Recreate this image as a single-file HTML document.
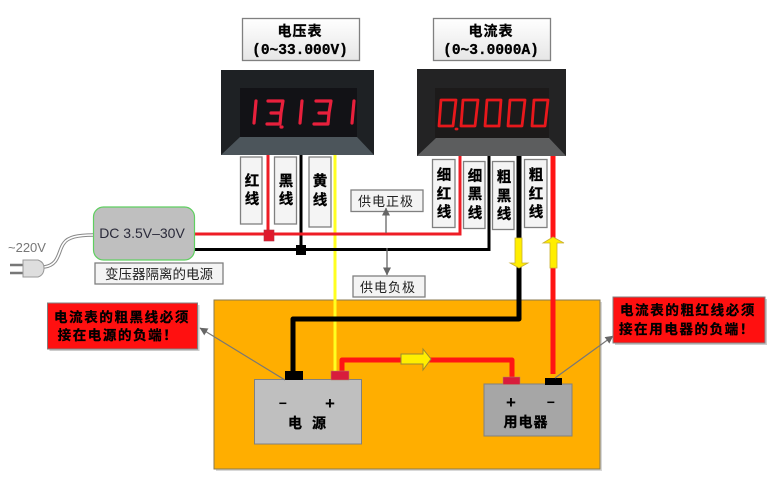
<!DOCTYPE html>
<html><head><meta charset="utf-8">
<style>
html,body{margin:0;padding:0;background:#fff}
svg{display:block}
text{font-family:"Liberation Sans","Noto Sans CJK SC",sans-serif}
.b{font-weight:700;font-family:"Liberation Mono","Noto Sans CJK SC",monospace}
.h{stroke:#000;stroke-width:.3}
.lab{fill:#f4f4f4;stroke:#808080;stroke-width:1.3}
.seg{fill:none;stroke:#e8203c;stroke-width:3.2;stroke-linecap:round;stroke-linejoin:round}
.seg2{fill:none;stroke:#e8181c;stroke-width:2.800;stroke-linecap:round;stroke-linejoin:round}
</style></head><body>
<svg width="780" height="498" viewBox="0 0 780 498" xmlns="http://www.w3.org/2000/svg">
<defs>
<marker id="ah" markerWidth="9" markerHeight="9" refX="7.500" refY="4" orient="auto" markerUnits="userSpaceOnUse"><path d="M0 0L8 4L0 8z" fill="#666"/></marker>
<linearGradient id="mb" x1="0" y1="0" x2="0" y2="1"><stop offset="0" stop-color="#fff"/><stop offset="1" stop-color="#e6e6e6"/></linearGradient>
</defs>
<rect width="780" height="498" fill="#fff"/>

<!-- orange panel -->
<rect x="216" y="302" width="386" height="169" fill="#d8d8d8"/>
<rect x="214" y="300" width="386" height="169" fill="#ffae00" stroke="#8a7a50" stroke-width="1"/>

<!-- wires from meters -->
<path d="M268 153V234" stroke="#ee1c25" stroke-width="3" fill="none"/>
<path d="M301 153V250" stroke="#000" stroke-width="3" fill="none"/>
<path d="M335 153V375" stroke="#ffff20" stroke-width="3" fill="none"/>
<path d="M195 234H460V153" stroke="#ee1c25" stroke-width="3" fill="none"/>
<path d="M195 249.500H489V153" stroke="#000" stroke-width="3" fill="none"/>
<path d="M519 153V319H293V373" stroke="#000" stroke-width="5" fill="none" stroke-linejoin="round"/>
<path d="M553 153V374" stroke="#ff1414" stroke-width="5" fill="none"/>
<path d="M342 373V360H512V379" stroke="#ff1414" stroke-width="5" fill="none" stroke-linejoin="round"/>
<rect x="264" y="230" width="10" height="11" fill="#e0192c" stroke="#b03040" stroke-width=".6"/>
<rect x="296" y="245" width="10" height="10" fill="#000"/>

<!-- title boxes -->
<rect x="242.500" y="18.500" width="117" height="42" fill="url(#mb)" stroke="#808080" stroke-width="1.3"/>
<text x="300" y="36" text-anchor="middle" class="b h" font-size="14" letter-spacing="1">电压表</text>
<text x="300" y="54" text-anchor="middle" class="b h" font-size="14.500">(0~33.000V)</text>
<rect x="433.500" y="18.500" width="117" height="42" fill="url(#mb)" stroke="#808080" stroke-width="1.3"/>
<text x="491" y="36" text-anchor="middle" class="b h" font-size="14" letter-spacing="1">电流表</text>
<text x="491" y="54" text-anchor="middle" class="b h" font-size="14.500">(0~3.0000A)</text>

<!-- voltmeter -->
<rect x="221" y="70" width="153" height="85" fill="#1e2124"/>
<path d="M221 155L240 137H357L374 155z" fill="#4c555b"/>
<rect x="240" y="88" width="117" height="49" fill="#121216"/>
<g class="seg"><title>13.131</title>
<path d="M256 101L254 123"/>
<path d="M268 101H283L281 113H271M281 113L280 124H267"/>
<path d="M281 127h1"/>
<path d="M302 101L300 123"/>
<path d="M316 101H331L329 113H319M329 113L328 124H314"/>
<path d="M354 101L352 123"/>
</g>

<!-- ammeter -->
<rect x="417" y="69" width="149" height="87" fill="#232324"/>
<path d="M417 156L436 138H549L566 156z" fill="#5c5d5e"/>
<rect x="435" y="88" width="114" height="50" fill="#1c1a1a"/>
<g class="seg2"><title>0.0000</title>
<path d="M441 100H456L453 126H439z"/><path d="M456 129h1"/>
<path d="M463 100H478L475 126H461z"/>
<path d="M487 100H501L499 126H485z"/>
<path d="M510 100H525L522 126H508z"/>
<path d="M534 100H548L545 126H532z"/>
</g>

<!-- wire labels -->
<g class="b h" font-size="14.500" text-anchor="middle">
<rect class="lab" x="240.500" y="157" width="21.500" height="67"/>
<text x="252" y="186">红</text><text x="252" y="204">线</text>
<rect class="lab" x="274.500" y="157" width="22" height="67"/>
<text x="286" y="186">黑</text><text x="286" y="204">线</text>
<rect class="lab" x="309" y="157" width="22" height="70"/>
<text x="320" y="186">黄</text><text x="320" y="205">线</text>

<rect class="lab" x="432.500" y="159.500" width="22.500" height="68"/>
<text x="444" y="180">细</text><text x="444" y="199">红</text><text x="444" y="217">线</text>
<rect class="lab" x="463.500" y="161.500" width="21.500" height="67"/>
<text x="475" y="181">细</text><text x="475" y="199">黑</text><text x="475" y="218">线</text>
<rect class="lab" x="492.500" y="161.500" width="21.500" height="68"/>
<text x="504" y="182">粗</text><text x="504" y="201">黑</text><text x="504" y="219">线</text>
<rect class="lab" x="524.500" y="159.500" width="22.500" height="68"/>
<text x="536" y="180">粗</text><text x="536" y="199">红</text><text x="536" y="217">线</text>
</g>

<!-- supply labels & arrows -->
<rect class="lab" x="351" y="190" width="72" height="21.500"/>
<text x="386" y="206" text-anchor="middle" font-size="13" fill="#222" letter-spacing="1">供电正极</text>
<rect class="lab" x="353" y="276" width="72" height="21"/>
<text x="388" y="292" text-anchor="middle" font-size="13" fill="#222" letter-spacing="1">供电负极</text>
<path d="M386 233V208" stroke="#666" stroke-width="1.300" marker-end="url(#ah)"/>
<path d="M387 248V275" stroke="#666" stroke-width="1.300" marker-end="url(#ah)"/>

<!-- power supply -->
<rect x="93.500" y="207" width="101" height="53" rx="10" fill="#bfbfbf" stroke="#5fcf60" stroke-width="1.200"/>
<text x="142" y="238" text-anchor="middle" font-size="14" fill="#2a2a3a">DC 3.5V–30V</text>
<rect class="lab" x="95" y="263" width="128" height="21"/>
<text x="159" y="279" text-anchor="middle" font-size="13.500" fill="#222">变压器隔离的电源</text>

<!-- plug -->
<path d="M44 267C60 265 58 250 64 243C68 237 78 235 93 235" stroke="#888" stroke-width="3.600" fill="none"/>
<path d="M44 267C60 265 58 250 64 243C68 237 78 235 93 235" stroke="#fff" stroke-width="1.600" fill="none"/>
<path d="M10 265H23M10 273H23" stroke="#777" stroke-width="2.500"/>
<path d="M23 260H38Q44 262 44 268Q44 275 38 277H23z" fill="#dedede" stroke="#999" stroke-width="1"/>
<text x="8" y="252" font-size="13" fill="#777">~220V</text>

<!-- yellow flow arrows -->
<path d="M515 238H522V263H528L519 268L510 263H515z" fill="#ffee00" stroke="#c9b030" stroke-width=".8"/>
<path d="M550 268H557V243H564L553 237L543 243H550z" fill="#ffee00" stroke="#c9b030" stroke-width=".8"/>
<path d="M401 354H423V349L431 359L423 370V364H401z" fill="#ffee00" stroke="#9a8a30" stroke-width="1"/>

<!-- source battery -->
<rect x="254.500" y="379.500" width="107" height="64.500" fill="#bfbfbf" stroke="#808080" stroke-width="1"/>
<rect x="285" y="371" width="18" height="9" fill="#000"/>
<rect x="331" y="371" width="18" height="9" fill="#d81c3c" stroke="#aa8870" stroke-width=".5"/>
<text x="283" y="408" text-anchor="middle" class="b" font-size="14">−</text>
<text x="330" y="409" text-anchor="middle" class="b" font-size="17">+</text>
<text x="295" y="428" text-anchor="middle" class="b h" font-size="14">电</text>
<text x="319" y="428" text-anchor="middle" class="b h" font-size="14">源</text>

<!-- load -->
<rect x="484" y="384" width="88" height="52" fill="#a6a6a6" stroke="#808080" stroke-width="1"/>
<rect x="503" y="377" width="17" height="7.500" fill="#d81c3c" stroke="#aa8870" stroke-width=".5"/>
<rect x="545" y="378" width="17" height="7" fill="#000"/>
<text x="511" y="408" text-anchor="middle" class="b" font-size="17">+</text>
<text x="551" y="407" text-anchor="middle" class="b" font-size="14">−</text>
<text x="526" y="427" text-anchor="middle" class="b h" font-size="14" letter-spacing="1">用电器</text>

<!-- callouts -->
<path d="M285 380L200 328" stroke="#777" stroke-width="1.200" marker-end="url(#ah)"/>
<path d="M555 378L613 336" stroke="#777" stroke-width="1.200" marker-end="url(#ah)"/>
<rect x="49.500" y="305" width="150" height="46" fill="#ccc"/>
<rect x="47.500" y="303" width="150" height="46" fill="#ff1010" stroke="#808080" stroke-width="1"/>
<text x="122" y="322" text-anchor="middle" class="b h" font-size="13.500" letter-spacing="1.600">电流表的粗黑线必须</text>
<text x="118" y="340" text-anchor="middle" class="b h" font-size="13.500" letter-spacing="1.600">接在电源的负端！</text>
<rect x="615" y="299" width="152" height="46" fill="#ccc"/>
<rect x="613" y="297" width="152" height="46" fill="#ff1010" stroke="#808080" stroke-width="1"/>
<text x="688" y="315" text-anchor="middle" class="b h" font-size="13.500" letter-spacing="1.600">电流表的粗红线必须</text>
<text x="687" y="334" text-anchor="middle" class="b h" font-size="13.500" letter-spacing="1.600">接在用电器的负端！</text>
</svg>
</body></html>
